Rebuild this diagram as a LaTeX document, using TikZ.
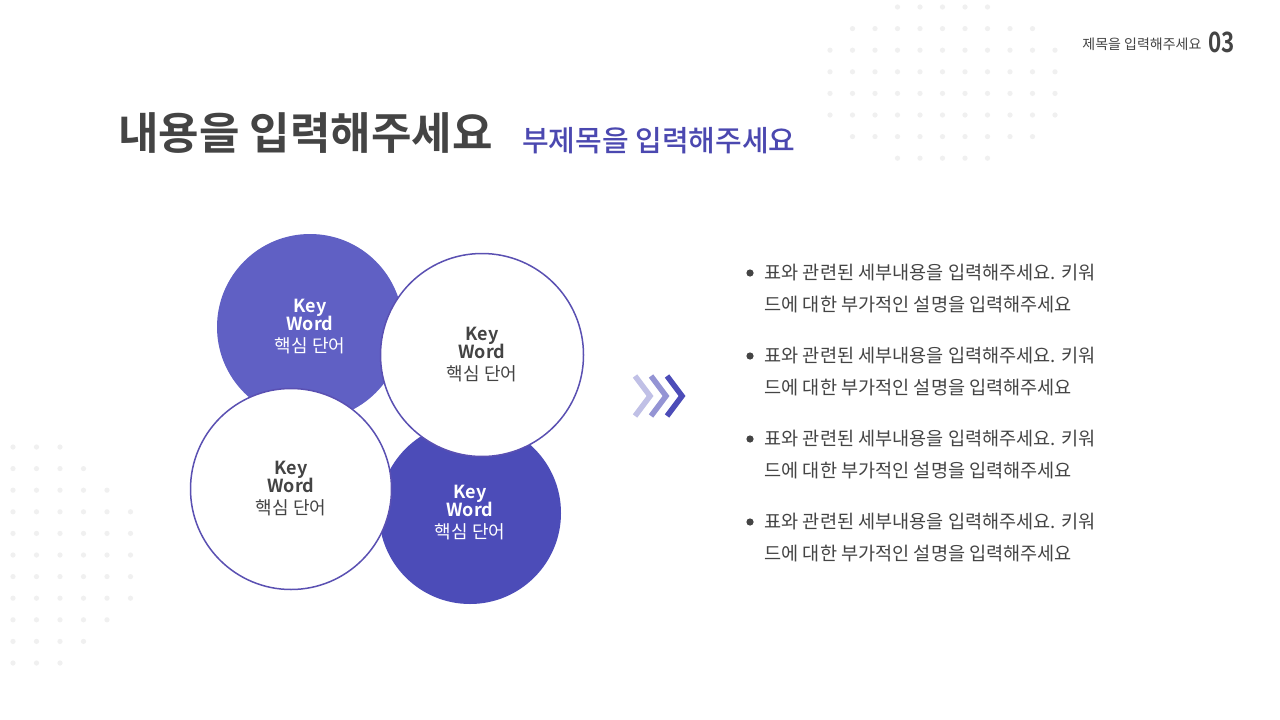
\documentclass[tikz,border=0pt]{standalone}
\usepackage{fontspec}
\setmainfont{Noto Sans CJK KR}
\newfontfamily\kb{Noto Sans CJK KR Bold}
\newfontfamily\km{Noto Sans CJK KR Medium}
\begin{document}
\begin{tikzpicture}[x=1pt,y=-1pt]
\definecolor{pa}{HTML}{6060C4}
\definecolor{pb}{HTML}{4C4CB8}
\definecolor{ol}{HTML}{5A50B2}
\definecolor{tx}{HTML}{444444}
\definecolor{sub}{HTML}{4B48B0}
\definecolor{dotc}{HTML}{F0F0F0}
\tikzset{dot/.style={fill=dotc,draw=none},
  fcirc/.style={circle,draw=none,inner sep=0},
  ocirc/.style={circle,draw=ol,line width=1.5pt,fill=white,inner sep=0},
  kw/.style={align=center,font=\fontsize{18}{20}\selectfont,text=tx},
  bl/.style={anchor=west,align=left,text=tx,font=\fontsize{18.6}{32}\selectfont},
  chev/.style={line width=5.5pt}}
\path[use as bounding box] (0,0) rectangle (1280,720);
\fill[white] (0,0) rectangle (1280,720);
% dot patterns
\foreach \i in {0,...,10}{\foreach \j in {0,...,7}{
  \pgfmathsetmacro\dx{\i-5}\pgfmathsetmacro\dy{\j-3.5}
  \pgfmathparse{(\dx*\dx/30+\dy*\dy/14)<1.05?1:0}
  \ifnum\pgfmathresult=1 \fill[dot] ({830+\i*22.5},{7+\j*21.6}) circle (2.6);\fi}}
\foreach \i in {0,...,5}{\foreach \j in {0,...,10}{
  \pgfmathsetmacro\dx{\i}\pgfmathsetmacro\dy{\j-5}
  \pgfmathparse{(\dx*\dx/30+\dy*\dy/30)<1.05?1:0}
  \ifnum\pgfmathresult=1 \fill[dot] ({13+\i*23.5},{447+\j*21.6}) circle (2.6);\fi}}
% header
\node[anchor=east,text=tx,font=\fontsize{14}{16}\selectfont] (hd) at (1205,44) {제목을 입력해주세요};
\node[anchor=west,text=tx,font=\kb\fontsize{28}{30}\selectfont,inner sep=0,xscale=0.8] (num) at (1208,42) {03};
\node[anchor=west,text=tx,font=\kb\fontsize{44}{48}\selectfont,inner sep=0] (title) at (118,133) {내용을 입력해주세요};
\node[anchor=west,text=sub,font=\km\fontsize{29}{32}\selectfont,inner sep=0] (subt) at (522,141) {부제목을 입력해주세요};
% circles
\node[fcirc,fill=pa,minimum size=186] (c1) at (310,327) {};
\node[fcirc,fill=pb,minimum size=182] (c4) at (470,513) {};
\node[ocirc,minimum size=203] (c2) at (482,355) {};
\node[ocirc,minimum size=201] (c3) at (291,489) {};
\node[kw,text=white] at (c1) {{\kb Key}\\[-2pt]{\kb Word}\\[2pt]핵심 단어};
\node[kw] at (c2) {{\kb Key}\\[-2pt]{\kb Word}\\[2pt]핵심 단어};
\node[kw] at (c3) {{\kb Key}\\[-2pt]{\kb Word}\\[2pt]핵심 단어};
\node[kw,text=white] at (c4) {{\kb Key}\\[-2pt]{\kb Word}\\[2pt]핵심 단어};
% chevrons
\draw[chev,draw=pb!35] (635,376)--(650,396)--(635,416);
\draw[chev,draw=pb!60] (651,376)--(666,396)--(651,416);
\draw[chev,draw=pb] (667,376)--(682,396)--(667,416);
% bullets
\foreach \y in {289,372,455,538}{
  \fill[tx] (750,\y-16) circle (3.6);
  \node[bl] at (761,\y) {표와 관련된 세부내용을 입력해주세요. 키워\\드에 대한 부가적인 설명을 입력해주세요};}
\end{tikzpicture}
\end{document}
